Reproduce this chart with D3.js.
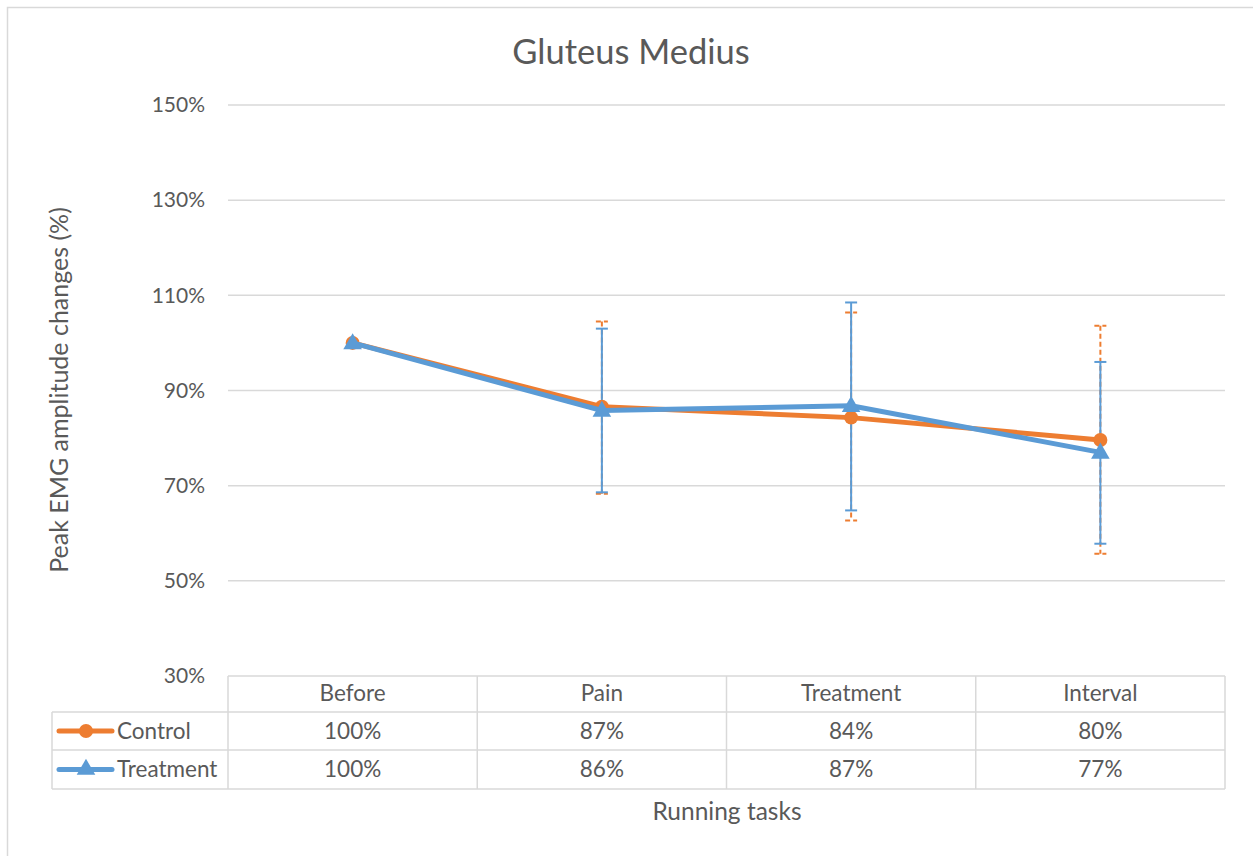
<!DOCTYPE html>
<html><head><meta charset="utf-8">
<script src="https://cdn.jsdelivr.net/npm/d3@7"></script>
<style>html,body{margin:0;padding:0;background:#fff;}svg{display:block;}</style>
</head><body>
<svg id="c" width="1253" height="856"></svg>
<script>
const categories = ["Before", "Pain", "Treatment", "Interval"];
const controlValues = [100, 86.6, 84.3, 79.6];
const treatmentValues = [100, 85.8, 86.8, 77.0];
const controlUpper = [100, 104.5, 106.4, 103.6];
const controlLower = [100, 68.3, 62.7, 55.7];
const treatmentUpper = [100, 103.0, 108.5, 96.0];
const treatmentLower = [100, 68.6, 64.8, 57.8];
const controlLabels = ["100%", "87%", "84%", "80%"];
const treatmentLabels = ["100%", "86%", "87%", "77%"];
const yTicks = [30, 50, 70, 90, 110, 130, 150];

const FONT = "Lato, 'Open Sans', sans-serif";
const TXT = "#595959", GRID = "#d9d9d9";
const ORANGE = "#ed7d31", BLUE = "#5b9bd5";

const svg = d3.select("#c");
svg.append("rect").attr("x",7.5).attr("y",7.5).attr("width",1260).attr("height",870)
  .attr("fill","#fff").attr("stroke",GRID).attr("stroke-width",1.5);

const x0 = 228, x1 = 1225;
const x = d3.scaleBand().domain(categories).range([x0, x1]);
const y = d3.scaleLinear().domain([30, 150]).range([676, 105]);
const cx = d => x(d) + x.bandwidth()/2;

svg.append("text").attr("x",631).attr("y",52).attr("dy","0.35em").attr("text-anchor","middle")
  .attr("font-family",FONT).attr("font-size",34.5).attr("fill",TXT).text("Gluteus Medius");

// gridlines
svg.append("g").selectAll("line").data(yTicks.filter(t=>t>30)).join("line")
  .attr("x1",x0).attr("x2",x1).attr("y1",d=>y(d)).attr("y2",d=>y(d))
  .attr("stroke",GRID).attr("stroke-width",1.5);

// y axis labels
const yAxis = d3.axisLeft(y).tickValues(yTicks).tickFormat(d=>d+"%").tickSize(0).tickPadding(23);
const ga = svg.append("g").attr("transform",`translate(${x0},0)`).call(yAxis);
ga.select(".domain").remove();
ga.selectAll("text").attr("font-family",FONT).attr("font-size",21).attr("fill",TXT);

svg.append("text").attr("transform","translate(59,390) rotate(-90)").attr("dy","0.35em").attr("text-anchor","middle")
  .attr("font-family",FONT).attr("font-size",25).attr("fill",TXT).text("Peak EMG amplitude changes (%)");

// error bars
function errorBars(upper, lower, color, dash) {
  const g = svg.append("g");
  categories.forEach((c,i) => {
    if (upper[i] === lower[i]) return;
    g.append("line").attr("x1",cx(c)).attr("x2",cx(c)).attr("y1",y(upper[i])).attr("y2",y(lower[i]))
      .attr("stroke",color).attr("stroke-width",2).attr("stroke-dasharray",dash);
    [upper[i], lower[i]].forEach(v => {
      g.append("line").attr("x1",cx(c)-6).attr("x2",cx(c)+6).attr("y1",y(v)).attr("y2",y(v))
        .attr("stroke",color).attr("stroke-width",2).attr("stroke-dasharray",dash);
    });
  });
}
errorBars(controlUpper, controlLower, ORANGE, "5,3");
errorBars(treatmentUpper, treatmentLower, BLUE, null);

const line = d3.line().x((d,i)=>cx(categories[i])).y(d=>y(d));
svg.append("path").datum(controlValues).attr("d",line).attr("fill","none")
  .attr("stroke",ORANGE).attr("stroke-width",5).attr("stroke-linejoin","round").attr("stroke-linecap","round");
svg.append("g").selectAll("circle").data(controlValues).join("circle")
  .attr("cx",(d,i)=>cx(categories[i])).attr("cy",d=>y(d)).attr("r",7).attr("fill",ORANGE);

svg.append("path").datum(treatmentValues).attr("d",line).attr("fill","none")
  .attr("stroke",BLUE).attr("stroke-width",5).attr("stroke-linejoin","round").attr("stroke-linecap","round");
const tri = d3.symbol().type(d3.symbolTriangle).size(150);
svg.append("g").selectAll("path").data(treatmentValues).join("path")
  .attr("d",tri).attr("transform",(d,i)=>`translate(${cx(categories[i])},${y(d)+1})`).attr("fill",BLUE);

// data table
const rowY = [676, 712, 750, 789];
const tg = svg.append("g").attr("stroke",GRID).attr("stroke-width",1.5);
tg.append("line").attr("x1",x0).attr("x2",x1).attr("y1",rowY[0]).attr("y2",rowY[0]);
[1,2,3].forEach(r => tg.append("line").attr("x1",52).attr("x2",x1).attr("y1",rowY[r]).attr("y2",rowY[r]));
tg.append("line").attr("x1",52).attr("x2",52).attr("y1",rowY[1]).attr("y2",rowY[3]);
[x0, ...categories.map(c=>x(c)+x.bandwidth())].forEach(xx =>
  tg.append("line").attr("x1",xx).attr("x2",xx).attr("y1",rowY[0]).attr("y2",rowY[3]));

const tt = svg.append("g").attr("font-family",FONT).attr("font-size",22.5).attr("fill",TXT).attr("text-anchor","middle");
categories.forEach((c,i) => {
  tt.append("text").attr("x",cx(c)).attr("y",(rowY[0]+rowY[1])/2-1).attr("dy","0.35em").text(c);
  tt.append("text").attr("x",cx(c)).attr("y",(rowY[1]+rowY[2])/2).attr("dy","0.35em").text(controlLabels[i]);
  tt.append("text").attr("x",cx(c)).attr("y",(rowY[2]+rowY[3])/2).attr("dy","0.35em").text(treatmentLabels[i]);
});

// legend keys
const legend = [{name:"Control", color:ORANGE, sym:"circle"}, {name:"Treatment", color:BLUE, sym:"tri"}];
legend.forEach((l,i) => {
  const yy = (rowY[i+1]+rowY[i+2])/2;
  svg.append("line").attr("x1",59).attr("x2",112).attr("y1",yy).attr("y2",yy)
    .attr("stroke",l.color).attr("stroke-width",5).attr("stroke-linecap","round");
  if (l.sym==="circle") svg.append("circle").attr("cx",86).attr("cy",yy).attr("r",7).attr("fill",l.color);
  else svg.append("path").attr("d",tri).attr("transform",`translate(86,${yy})`).attr("fill",l.color);
  svg.append("text").attr("x",117).attr("y",yy).attr("dy","0.35em").attr("font-family",FONT).attr("font-size",22.5)
    .attr("fill",TXT).text(l.name);
});

svg.append("text").attr("x",727).attr("y",811).attr("dy","0.35em").attr("text-anchor","middle")
  .attr("font-family",FONT).attr("font-size",24.5).attr("fill",TXT).text("Running tasks");
</script>
</body></html>
